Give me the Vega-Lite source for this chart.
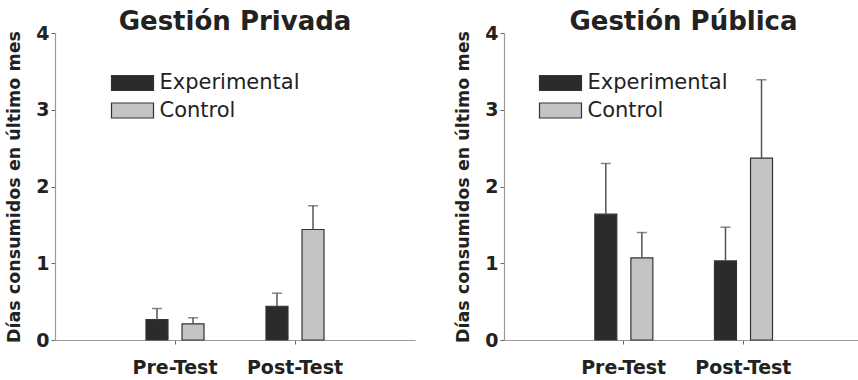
{
  "$schema": "https://vega.github.io/schema/vega-lite/v6.json",
  "padding": {"left": 5, "top": 9, "right": 1, "bottom": 1},
  "config": {
    "view": {"stroke": null},
    "font": "DejaVu Sans",
    "axis": {"grid": false, "domainColor": "#9a9a9a", "domainWidth": 1.2, "tickColor": "#666", "tickSize": 4, "labelColor": "#222", "titleColor": "#222"},
    "title": {"fontSize": 26, "fontWeight": "bold", "color": "#222", "anchor": "middle", "offset": -11, "baseline": "bottom", "frame": "group"}
  },
  "datasets": {
    "privada": [
      {"momento": "Pre-Test", "grupo": "Experimental", "media": 0.265, "sup": 0.41},
      {"momento": "Pre-Test", "grupo": "Control", "media": 0.21, "sup": 0.29},
      {"momento": "Post-Test", "grupo": "Experimental", "media": 0.44, "sup": 0.61},
      {"momento": "Post-Test", "grupo": "Control", "media": 1.44, "sup": 1.75}
    ],
    "publica": [
      {"momento": "Pre-Test", "grupo": "Experimental", "media": 1.64, "sup": 2.3},
      {"momento": "Pre-Test", "grupo": "Control", "media": 1.07, "sup": 1.4},
      {"momento": "Post-Test", "grupo": "Experimental", "media": 1.03, "sup": 1.47},
      {"momento": "Post-Test", "grupo": "Control", "media": 2.37, "sup": 3.39}
    ]
  },
  "spacing": 39,
  "resolve": {"legend": {"color": "independent"}},
  "hconcat": [
    {
      "width": 360,
      "height": 307,
      "title": {"text": "Gestión Privada"},
      "data": {"name": "privada"},
      "encoding": {
        "x": {"field": "momento", "type": "nominal", "sort": ["Pre-Test", "Post-Test"], "scale": {"paddingInner": 0, "paddingOuter": 0.5},
              "axis": {"title": null, "labelAngle": 0, "labelFontSize": 19, "labelFontWeight": "bold", "labelPadding": 14}},
        "xOffset": {"field": "grupo", "type": "nominal", "sort": ["Experimental", "Control"], "scale": {"paddingInner": 0.39, "paddingOuter": 0.86}}
      },
      "layer": [
        {
          "mark": {"type": "bar", "stroke": "#333", "strokeWidth": 1.2},
          "encoding": {
            "y": {"field": "media", "type": "quantitative", "scale": {"domain": [0, 4]},
                  "axis": {"values": [0, 1, 2, 3, 4], "format": "d", "title": "Días consumidos en último mes", "titleFontSize": 17.5, "titleFontWeight": "bold", "titlePadding": 12, "labelFontSize": 19, "labelFontWeight": "bold", "labelPadding": 2}},
            "color": {"field": "grupo", "type": "nominal", "sort": ["Experimental", "Control"],
                      "scale": {"domain": ["Experimental", "Control"], "range": ["#2b2b2b", "#c4c4c4"]},
                      "legend": {"title": null, "orient": "none", "legendX": 67, "legendY": 39.5, "padding": 0,
                                 "symbolType": "M-3,-1.07H3V1.07H-3Z", "symbolSize": 196, "symbolStrokeColor": "#333", "symbolStrokeWidth": 1.2, "symbolOpacity": 1,
                                 "labelFontSize": 21, "labelColor": "#222", "labelOffset": 16.5, "rowPadding": 5.5}}
          }
        },
        {
          "mark": {"type": "rule", "color": "#555", "strokeWidth": 1.5},
          "encoding": {"y": {"field": "media", "type": "quantitative"}, "y2": {"field": "sup"}}
        },
        {
          "mark": {"type": "tick", "color": "#555", "thickness": 1.5, "size": 10},
          "encoding": {"y": {"field": "sup", "type": "quantitative"}}
        }
      ]
    },
    {
      "width": 359,
      "height": 307,
      "title": {"text": "Gestión Pública"},
      "data": {"name": "publica"},
      "encoding": {
        "x": {"field": "momento", "type": "nominal", "sort": ["Pre-Test", "Post-Test"], "scale": {"paddingInner": 0, "paddingOuter": 0.5},
              "axis": {"title": null, "labelAngle": 0, "labelFontSize": 19, "labelFontWeight": "bold", "labelPadding": 14}},
        "xOffset": {"field": "grupo", "type": "nominal", "sort": ["Experimental", "Control"], "scale": {"paddingInner": 0.39, "paddingOuter": 0.86}}
      },
      "layer": [
        {
          "mark": {"type": "bar", "stroke": "#333", "strokeWidth": 1.2},
          "encoding": {
            "y": {"field": "media", "type": "quantitative", "scale": {"domain": [0, 4]},
                  "axis": {"values": [0, 1, 2, 3, 4], "format": "d", "title": "Días consumidos en último mes", "titleFontSize": 17.5, "titleFontWeight": "bold", "titlePadding": 12, "labelFontSize": 19, "labelFontWeight": "bold", "labelPadding": 2}},
            "color": {"field": "grupo", "type": "nominal", "sort": ["Experimental", "Control"],
                      "scale": {"domain": ["Experimental", "Control"], "range": ["#2b2b2b", "#c4c4c4"]},
                      "legend": {"title": null, "orient": "none", "legendX": 46, "legendY": 39.5, "padding": 0,
                                 "symbolType": "M-3,-1.07H3V1.07H-3Z", "symbolSize": 196, "symbolStrokeColor": "#333", "symbolStrokeWidth": 1.2, "symbolOpacity": 1,
                                 "labelFontSize": 21, "labelColor": "#222", "labelOffset": 16.5, "rowPadding": 5.5}}
          }
        },
        {
          "mark": {"type": "rule", "color": "#555", "strokeWidth": 1.5},
          "encoding": {"y": {"field": "media", "type": "quantitative"}, "y2": {"field": "sup"}}
        },
        {
          "mark": {"type": "tick", "color": "#555", "thickness": 1.5, "size": 10},
          "encoding": {"y": {"field": "sup", "type": "quantitative"}}
        }
      ]
    }
  ]
}
